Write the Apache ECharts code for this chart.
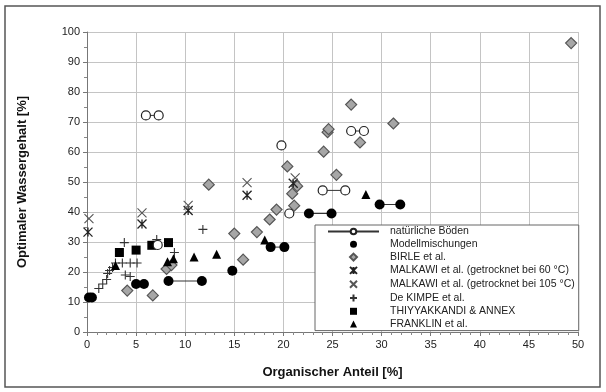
<!DOCTYPE html>
<html><head><meta charset="utf-8">
<script src="https://cdn.jsdelivr.net/npm/echarts@6/dist/echarts.min.js"></script>
<style>html,body{margin:0;padding:0;background:#fff}#c{width:606px;height:392px}</style>
</head><body><div id="c"></div>
<script>
// ---- data ----
const xTicks = [0,5,10,15,20,25,30,35,40,45,50];
const yTicks = [0,10,20,30,40,50,60,70,80,90,100];
// natürliche Böden: groups joined by lines
const natural = [
  [[6.0,72.2],[7.3,72.2]],
  [[19.8,62.2]],
  [[26.9,67.0],[28.2,67.0]],
  [[24.0,47.2],[26.3,47.2]],
  [[20.6,39.5]],
  [[7.2,29.0]]
];
// Modellmischungen: groups joined by lines
const modell = [
  [[0.2,11.5],[0.5,11.5]],
  [[5.0,16.0],[5.8,16.0]],
  [[8.3,17.0],[11.7,17.0]],
  [[14.8,20.4]],
  [[18.7,28.3],[20.1,28.3]],
  [[22.6,39.5],[24.9,39.5]],
  [[29.8,42.5],[31.9,42.5]]
];
const birle = [[4.1,13.8],[6.7,12.2],[8.1,21.0],[8.6,22.3],[12.4,49.1],[15.0,32.8],[17.3,33.3],
  [15.9,24.1],[18.6,37.5],[19.3,40.8],[20.4,55.2],[20.9,46.1],[21.1,42.1],[21.4,48.6],
  [24.1,60.1],[24.5,66.6],[24.6,67.6],[25.4,52.4],[26.9,75.8],[27.8,63.2],[31.2,69.5],[49.3,96.3]];
const malkawi60 = [[0.1,33.3],[5.6,36.0],[10.3,40.5],[16.3,45.6],[21.0,49.6]];
const malkawi105 = [[0.2,37.8],[5.6,39.7],[10.3,42.2],[16.3,49.8],[21.2,51.4]];
const deKimpe = [[1.2,14.5],[1.6,16.0],[2.0,17.5],[2.1,19.5],[2.3,20.5],[2.6,21.5],[2.9,23.0],
  [3.6,23.0],[4.4,23.0],[5.1,23.0],[3.9,19.0],[4.4,18.5],[3.8,29.8],[7.1,30.8],[8.9,26.5],[11.8,34.2]];
const thiyyakkandi = [[3.3,26.5],[5.0,27.3],[6.6,28.9],[8.3,29.8]];
const franklin = [[2.9,22.2],[8.2,23.4],[8.8,24.4],[10.9,25.0],[13.2,25.9],[18.1,30.7],[28.4,45.8]];

const names = ['natürliche Böden','Modellmischungen','BIRLE et al.',
  'MALKAWI et al. (getrocknet bei 60 °C)','MALKAWI et al. (getrocknet bei 105 °C)',
  'De KIMPE et al.','THIYYAKKANDI & ANNEX','FRANKLIN et al.'];

function joinGroups(groups){
  const out = [];
  groups.forEach((g,i)=>{ if(i>0) out.push(['-','-']); g.forEach(p=>out.push(p)); });
  return out;
}
const SYM_STAR = 'path://M0,0L10,10M10,0L0,10M5,0L5,10';
const SYM_X = 'path://M0,0L10,10M10,0L0,10';
const SYM_PLUS = 'path://M5,0L5,10M0,5L10,5';
const ICON_DIAMOND = 'path://M5,0L10,5L5,10L0,5Z';
const ICON_RECT = 'path://M0,0L10,0L10,10L0,10Z';
const ICON_TRI = 'path://M5,0L10,10L0,10Z';

const chart = echarts.init(document.getElementById('c'), null, {renderer:'canvas'});
const font = 'Liberation Sans, Arial, sans-serif';
chart.setOption({
  animation:false,
  backgroundColor:'#fff',
  graphic:[{type:'rect', shape:{x:5,y:6,width:595,height:381}, style:{fill:'none', stroke:'#555', lineWidth:1.5}, z:-1}],
  grid:{left:87,right:28,top:32,bottom:60},
  xAxis:{type:'value',min:0,max:50,interval:5,
    name:'Organischer Anteil [%]',nameLocation:'middle',nameGap:34,
    nameTextStyle:{fontFamily:font,fontSize:13,fontWeight:'bold',color:'#111'},
    axisLine:{show:true,lineStyle:{color:'#777',width:1}},
    axisTick:{show:true,length:4,lineStyle:{color:'#777'}},
    minorTick:{show:true,splitNumber:5,length:3,lineStyle:{color:'#888'}},
    axisLabel:{fontFamily:font,fontSize:11,color:'#222',margin:7},
    splitLine:{show:true,lineStyle:{color:'#c4c4c4',width:1}}},
  yAxis:{type:'value',min:0,max:100,interval:10,
    name:'Optimaler Wassergehalt [%]',nameLocation:'middle',nameGap:58,
    nameTextStyle:{fontFamily:font,fontSize:13,fontWeight:'bold',color:'#111'},
    axisLine:{show:true,lineStyle:{color:'#777',width:1}},
    axisTick:{show:true,length:4,lineStyle:{color:'#777'}},
    minorTick:{show:true,splitNumber:2,length:3,lineStyle:{color:'#888'}},
    axisLabel:{fontFamily:font,fontSize:11,color:'#222',margin:7},
    splitLine:{show:true,lineStyle:{color:'#c4c4c4',width:1}}},
  legend:{orient:'vertical',left:315,top:225,
    padding:[1,4,1,12],itemWidth:51,itemHeight:7,itemGap:1.8,
    backgroundColor:'#fff',borderColor:'#666',borderWidth:1,borderRadius:0,
    textStyle:{fontFamily:font,fontSize:10.5,lineHeight:11,color:'#222',padding:[0,0,0,6]},
    data:[
      {name:names[0]},
      {name:names[1],icon:'circle'},
      {name:names[2],icon:ICON_DIAMOND},
      names[3],names[4],names[5],
      {name:names[6],icon:ICON_RECT},
      {name:names[7],icon:ICON_TRI}
    ]},
  series:[
    {name:names[0],type:'line',data:joinGroups(natural),connectNulls:false,
      symbol:'circle',symbolSize:9,showAllSymbol:true,
      lineStyle:{color:'#333',width:1},
      itemStyle:{color:'#fff',borderColor:'#222',borderWidth:1.2},z:3},
    {name:names[1],type:'line',data:joinGroups(modell),connectNulls:false,
      symbol:'circle',symbolSize:10,showAllSymbol:true,
      lineStyle:{color:'#333',width:1},
      itemStyle:{color:'#000',borderColor:'#000',borderWidth:0},z:3},
    {name:names[2],type:'scatter',data:birle,symbol:'diamond',symbolSize:11,
      itemStyle:{color:'#a6a6a6',borderColor:'#555',borderWidth:1.2,opacity:1}},
    {name:names[3],type:'scatter',data:malkawi60,symbol:SYM_STAR,symbolSize:9,
      itemStyle:{color:'none',borderColor:'#222',borderWidth:1.3,opacity:1}},
    {name:names[4],type:'scatter',data:malkawi105,symbol:SYM_X,symbolSize:9,
      itemStyle:{color:'none',borderColor:'#555',borderWidth:1.1,opacity:1}},
    {name:names[5],type:'scatter',data:deKimpe,symbol:SYM_PLUS,symbolSize:9,
      itemStyle:{color:'none',borderColor:'#333',borderWidth:1.1,opacity:1}},
    {name:names[6],type:'scatter',data:thiyyakkandi,symbol:'rect',symbolSize:9,
      itemStyle:{color:'#000',opacity:1}},
    {name:names[7],type:'scatter',data:franklin,symbol:'triangle',symbolSize:9,
      itemStyle:{color:'#000',opacity:1}}
  ]
});
</script></body></html>
